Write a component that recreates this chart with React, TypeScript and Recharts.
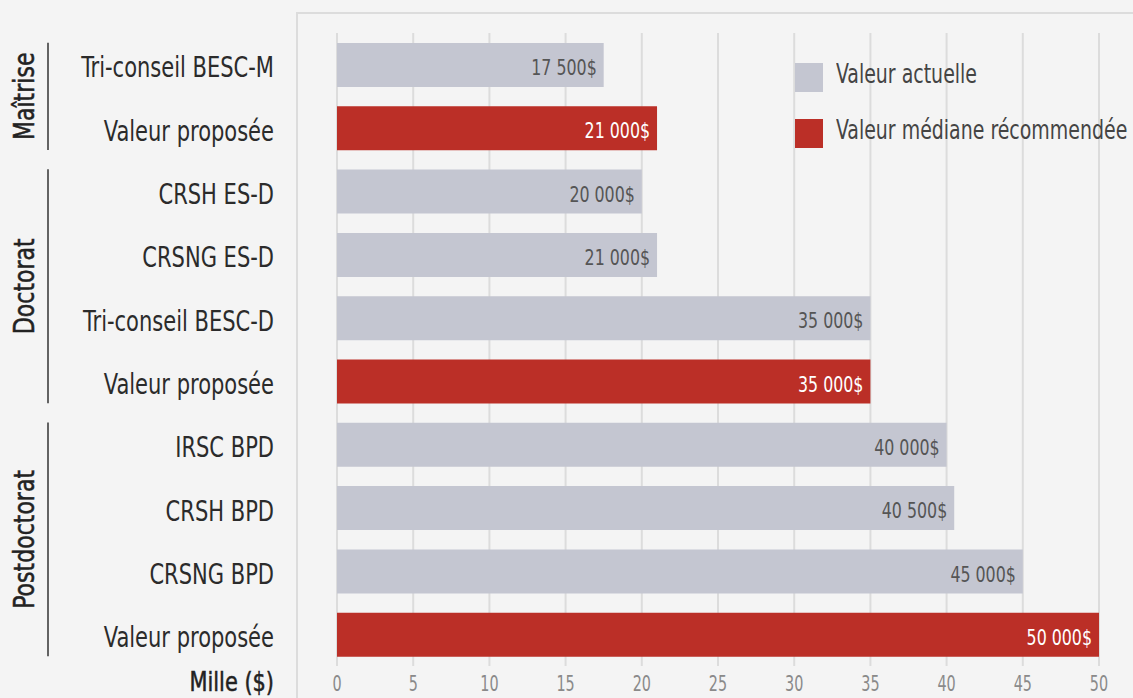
import React from "react";
import { BarChart, Bar, XAxis, YAxis, CartesianGrid, Cell, LabelList, Label } from "recharts";

const categories = [
  "Tri-conseil BESC-M",
  "Valeur proposée",
  "CRSH ES-D",
  "CRSNG ES-D",
  "Tri-conseil BESC-D",
  "Valeur proposée",
  "IRSC BPD",
  "CRSH BPD",
  "CRSNG BPD",
  "Valeur proposée",
];
const values = [17.5, 21, 20, 21, 35, 35, 40, 40.5, 45, 50];
const isProposed = [false, true, false, false, false, true, false, false, false, true];
const groupLabels = ["Maîtrise", "Doctorat", "Postdoctorat"];
const groupStarts = [0, 2, 6];
const groupCounts = [2, 4, 4];
const xTicks = [0, 5, 10, 15, 20, 25, 30, 35, 40, 45, 50];
const legendLabels = ["Valeur actuelle", "Valeur médiane récommendée"];
const axisTitle = "Mille ($)";

const GRAY = "#c4c6d1";
const RED = "#bb2f27";
const FONT = "'DejaVu Sans Condensed', 'Liberation Sans Narrow', sans-serif";

const W = 1133;
const H = 698;
const MARGIN = { top: 33, right: 34, bottom: 1, left: 0 };
const XAXIS_H = 31;
const YAXIS_W = 337;
const BAND = (H - MARGIN.top - MARGIN.bottom - XAXIS_H) / categories.length;

const data = categories.map((name, i) => ({ key: String(i), name, value: values[i], proposed: isProposed[i] }));

const fmt = (v: number) => {
  const n = Math.round(v * 1000);
  const s = String(n).replace(/\B(?=(\d{3})+(?!\d))/g, " ");
  return s + "$";
};

const SText = (p: any) => (
  <text
    transform={`translate(${p.x},${p.y})${p.rotate ? ` rotate(${p.rotate})` : ""} scale(${p.sx},1)`}
    x={0}
    y={0}
    textAnchor={p.anchor}
    dominantBaseline="central"
    fontSize={p.size}
    fill={p.fill}
    stroke={p.stroke || "none"}
    strokeWidth={p.strokeWidth || 0}
    fontFamily={FONT}
  >
    {p.children}
  </text>
);

const YTick = (props: any) => {
  const { y, payload } = props;
  const idx = Number(payload.value);
  const g = groupStarts.indexOf(idx);
  const cy = g >= 0 ? y + ((groupCounts[g] - 1) * BAND) / 2 : 0;
  return (
    <g>
      <SText x={274} y={y + 3} sx={0.82} anchor="end" size={28.5} fill="#2b2b2b">
        {categories[idx]}
      </SText>
      {g >= 0 && (
        <g>
          <line x1={48} x2={48} y1={y - 22} y2={y + (groupCounts[g] - 1) * BAND + 22} stroke="#333" strokeWidth={1.5} />
          <SText x={24} y={cy} rotate={-90} sx={0.86} anchor="middle" size={28.5} fill="#222" stroke="#222" strokeWidth={0.5}>
            {groupLabels[g]}
          </SText>
        </g>
      )}
    </g>
  );
};

const XTick = (props: any) => {
  const { x, payload } = props;
  return (
    <SText x={x} y={684} sx={0.78} anchor="middle" size={20.5} fill="#8a8a8a">
      {payload.value}
    </SText>
  );
};

const ValueLabel = (props: any) => {
  const { x, y, width, height, index } = props;
  return (
    <SText
      x={x + width - 7}
      y={y + height / 2 + 3}
      sx={0.8}
      anchor="end"
      size={22}
      fill={isProposed[index] ? "#ffffff" : "#555555"}
    >
      {fmt(values[index])}
    </SText>
  );
};

const AxisTitle = (props: any) => {
  const vb = props.viewBox || {};
  return (
    <SText x={vb.x - 63} y={682} sx={0.86} anchor="end" size={27} fill="#222" stroke="#222" strokeWidth={0.5}>
      {axisTitle}
    </SText>
  );
};

const LegendBox = () => (
  <div style={{ position: "absolute", left: 795, top: 63, fontFamily: FONT }}>
    {legendLabels.map((l, i) => (
      <div key={l} style={{ display: "flex", alignItems: "center", height: 29, marginBottom: 27 }}>
        <div style={{ width: 28, height: 29, background: i === 0 ? GRAY : RED, marginRight: 13, flex: "none" }} />
        <span
          style={{
            display: "inline-block",
            fontSize: 26,
            color: "#444",
            whiteSpace: "nowrap",
            position: "relative",
            top: -4,
            transform: "scaleX(0.81)",
            transformOrigin: "left center",
          }}
        >
          {l}
        </span>
      </div>
    ))}
  </div>
);

export default function App() {
  return (
    <div style={{ position: "fixed", left: 0, top: 0, width: W, height: H, background: "#f4f4f4", overflow: "hidden" }}>
      <div
        style={{
          position: "absolute",
          left: 296,
          top: 12,
          width: 900,
          height: 800,
          borderLeft: "2px solid #dcdcdc",
          borderTop: "2px solid #dcdcdc",
        }}
      />
      <div style={{ position: "absolute", left: 0, top: 0 }}>
        <BarChart width={W} height={H} data={data} layout="vertical" margin={MARGIN} barSize={44}>
          <CartesianGrid horizontal={false} vertical={true} stroke="#dcdcdc" strokeWidth={2} />
          <XAxis
            type="number"
            domain={[0, 50]}
            ticks={xTicks}
            height={XAXIS_H}
            axisLine={false}
            tickLine={false}
            tick={<XTick />}
            interval={0}
          >
            <Label content={<AxisTitle />} position="left" />
          </XAxis>
          <YAxis type="category" dataKey="key" width={YAXIS_W} axisLine={false} tickLine={false} tick={<YTick />} interval={0} />
          <Bar dataKey="value" isAnimationActive={false}>
            {data.map((d, i) => (
              <Cell key={i} fill={d.proposed ? RED : GRAY} />
            ))}
            <LabelList dataKey="value" content={<ValueLabel />} />
          </Bar>
        </BarChart>
      </div>
      <LegendBox />
    </div>
  );
}
